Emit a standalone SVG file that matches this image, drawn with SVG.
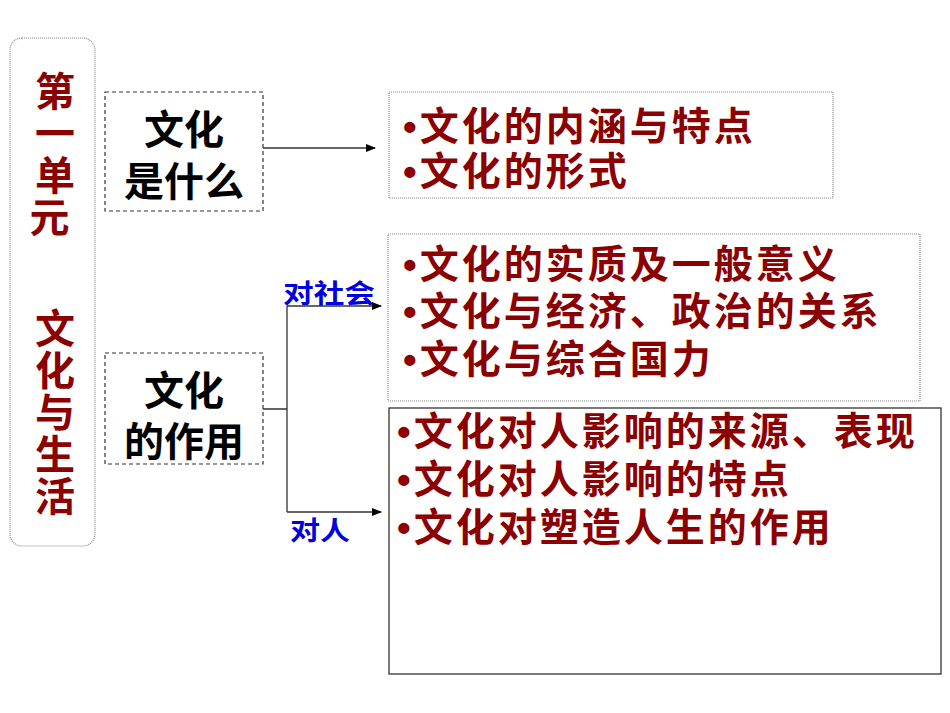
<svg xmlns="http://www.w3.org/2000/svg" width="950" height="713" viewBox="0 0 950 713">
<style>
.red{fill:#8b0000;font-family:"Liberation Sans","Noto Sans CJK SC",sans-serif;font-weight:bold}
.blk{fill:#000;font-family:"Liberation Sans","Noto Sans CJK SC",sans-serif;font-weight:bold;font-size:40px;text-anchor:middle}
.blue{fill:#0000e0;font-family:"Noto Sans CJK SC",sans-serif;font-weight:bold;font-size:26px}
.dash{fill:none;stroke:#333;stroke-width:1.2;stroke-dasharray:4 3}
.dot{fill:none;stroke:#888;stroke-width:1.2;stroke-dasharray:1 1}
.ln{fill:none;stroke:#333;stroke-width:1.3}
</style>
<defs><marker id="ah" markerWidth="10" markerHeight="8" refX="9" refY="4" orient="auto" markerUnits="userSpaceOnUse"><path d="M0,0 L10,4 L0,8 z" fill="#000"/></marker></defs>
<rect width="950" height="713" fill="#fff"/>
<g id="unit">
<rect x="10" y="38" width="85" height="508" rx="12" class="dot"/>
<text class="red" font-size="40" text-anchor="middle">
<tspan x="55" y="106">第</tspan><tspan x="55" y="148">一</tspan><tspan x="55" y="190">单</tspan><tspan x="55" y="232">元</tspan>
<tspan x="55" y="343">文</tspan><tspan x="55" y="385">化</tspan><tspan x="55" y="427">与</tspan><tspan x="55" y="469">生</tspan><tspan x="55" y="511">活</tspan></text>
</g>
<g id="what">
<rect x="105" y="92" width="158" height="119" class="dash"/>
<text class="blk"><tspan x="184" y="144">文化</tspan><tspan x="184" y="196">是什么</tspan></text>
</g>
<g id="role">
<rect x="105" y="353" width="158" height="111" class="dash"/>
<text class="blk"><tspan x="184" y="405">文化</tspan><tspan x="184" y="456">的作用</tspan></text>
</g>
<g id="box1">
<rect x="389" y="92" width="444" height="106" class="dot" stroke="#555"/>
<text class="red" font-size="39" letter-spacing="3"><tspan x="403" y="140">•文化的内涵与特点</tspan><tspan x="403" y="185">•文化的形式</tspan></text>
</g>
<g id="box2">
<rect x="388" y="234" width="532" height="167" class="dot"/>
<text class="red" font-size="39" letter-spacing="3"><tspan x="403" y="278">•文化的实质及一般意义</tspan><tspan x="403" y="325">•文化与经济、政治的关系</tspan><tspan x="403" y="373">•文化与综合国力</tspan></text>
</g>
<g id="box3">
<rect x="389" y="408" width="552" height="266" class="ln" stroke="#444"/>
<text class="red" font-size="39" letter-spacing="3"><tspan x="397" y="445">•文化对人影响的来源、表现</tspan><tspan x="397" y="493">•文化对人影响的特点</tspan><tspan x="397" y="541">•文化对塑造人生的作用</tspan></text>
</g>
<g id="connectors">
<line x1="263" y1="148" x2="375" y2="148" class="ln" marker-end="url(#ah)"/>
<path d="M263,409 H287 M287,306 V512" class="ln"/>
<line x1="287" y1="306" x2="381" y2="306" class="ln" marker-end="url(#ah)"/>
<line x1="287" y1="512" x2="381" y2="512" class="ln" marker-end="url(#ah)"/>
<text class="blue" x="283" y="303" textLength="92" lengthAdjust="spacingAndGlyphs">对社会</text>
<text class="blue" x="290" y="540" textLength="60" lengthAdjust="spacingAndGlyphs">对人</text>
</g>
</svg>
